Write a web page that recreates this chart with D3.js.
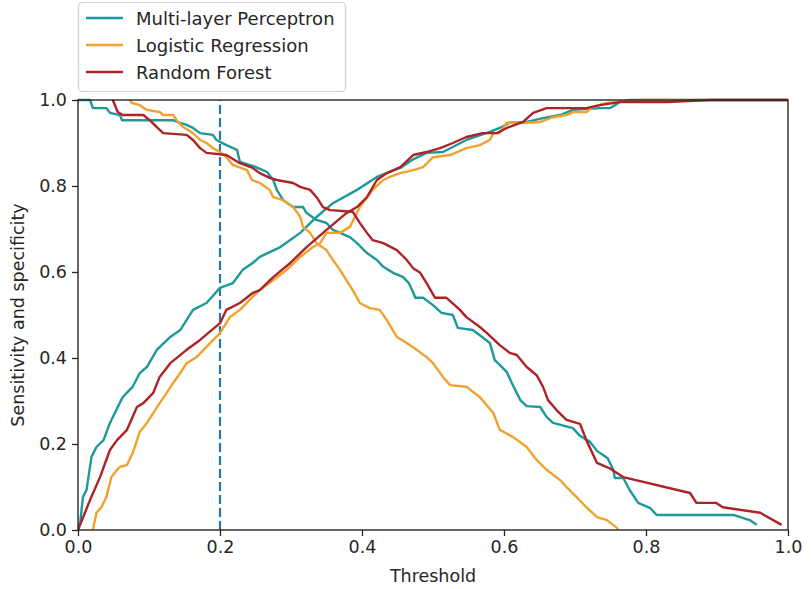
<!DOCTYPE html>
<html>
<head>
<meta charset="utf-8">
<script src="https://cdn.jsdelivr.net/npm/d3@7"></script>
<style>
  html, body { margin: 0; padding: 0; background: #fff; }
  svg text { font-family: "DejaVu Sans", sans-serif; fill: #262626; }
</style>
</head>
<body>
<svg id="chart" width="812" height="589"></svg>
<script>
// Threshold sweep: specificity rises, sensitivity falls as the threshold increases.
const modelNames = ["Multi-layer Perceptron", "Logistic Regression", "Random Forest"];
const modelColors = ["#1d9a98", "#f0a22e", "#ae2328"];
const xTicks = [0.0, 0.2, 0.4, 0.6, 0.8, 1.0];
const yTicks = [0.0, 0.2, 0.4, 0.6, 0.8, 1.0];
const chosenThreshold = 0.2;

const mlpSpecificity = [
  [0,0],[0.003,0.016],[0.007,0.077],[0.012,0.093],[0.019,0.17],[0.026,0.193],[0.036,0.209],
  [0.045,0.249],[0.056,0.286],[0.063,0.309],[0.077,0.333],[0.087,0.365],[0.097,0.379],
  [0.111,0.419],[0.130,0.449],[0.144,0.465],[0.162,0.512],[0.181,0.528],[0.2,0.563],
  [0.218,0.574],[0.232,0.605],[0.246,0.621],[0.256,0.635],[0.285,0.658],[0.313,0.691],
  [0.336,0.728],[0.359,0.760],[0.393,0.791],[0.421,0.821],[0.439,0.833],[0.454,0.842],
  [0.472,0.862],[0.491,0.877],[0.514,0.879],[0.547,0.907],[0.580,0.926],[0.594,0.935],
  [0.608,0.947],[0.632,0.949],[0.655,0.958],[0.679,0.965],[0.697,0.977],[0.735,0.981],
  [0.749,0.981],[0.756,0.988],[0.763,0.995],[0.777,1.0],[1.0,1.0]
];
const mlpSensitivity = [
  [0,1.0],[0.017,1.0],[0.021,0.981],[0.040,0.981],[0.045,0.970],[0.059,0.965],[0.062,0.953],
  [0.134,0.953],[0.144,0.947],[0.153,0.942],[0.162,0.935],[0.172,0.923],[0.190,0.919],
  [0.195,0.907],[0.209,0.895],[0.224,0.884],[0.228,0.856],[0.246,0.847],[0.266,0.833],
  [0.275,0.814],[0.280,0.791],[0.289,0.767],[0.303,0.751],[0.317,0.751],[0.322,0.737],
  [0.336,0.721],[0.350,0.714],[0.359,0.698],[0.369,0.691],[0.383,0.681],[0.393,0.667],
  [0.407,0.644],[0.421,0.628],[0.430,0.612],[0.444,0.598],[0.458,0.588],[0.466,0.574],
  [0.472,0.553],[0.475,0.540],[0.486,0.540],[0.500,0.523],[0.512,0.505],[0.528,0.500],
  [0.535,0.470],[0.556,0.465],[0.566,0.453],[0.580,0.435],[0.587,0.395],[0.594,0.384],
  [0.604,0.367],[0.611,0.342],[0.623,0.302],[0.632,0.288],[0.651,0.286],[0.660,0.263],
  [0.669,0.249],[0.697,0.237],[0.707,0.219],[0.721,0.205],[0.731,0.184],[0.746,0.167],
  [0.754,0.140],[0.756,0.121],[0.768,0.121],[0.777,0.093],[0.789,0.063],[0.806,0.051],
  [0.815,0.035],[0.923,0.035],[0.946,0.023],[0.956,0.012]
];
const lrSpecificity = [
  [0.021,0],[0.022,0.008],[0.026,0.040],[0.033,0.053],[0.040,0.077],[0.047,0.123],
  [0.055,0.140],[0.059,0.147],[0.069,0.151],[0.077,0.179],[0.087,0.228],[0.097,0.249],
  [0.106,0.272],[0.115,0.295],[0.125,0.319],[0.134,0.342],[0.144,0.365],[0.153,0.388],
  [0.167,0.402],[0.181,0.426],[0.2,0.458],[0.214,0.495],[0.228,0.512],[0.246,0.542],
  [0.256,0.558],[0.275,0.581],[0.294,0.605],[0.313,0.635],[0.331,0.658],[0.341,0.667],
  [0.350,0.691],[0.369,0.691],[0.383,0.705],[0.397,0.751],[0.415,0.791],[0.430,0.814],
  [0.439,0.821],[0.454,0.830],[0.472,0.837],[0.486,0.844],[0.500,0.867],[0.524,0.872],
  [0.547,0.888],[0.566,0.895],[0.580,0.907],[0.585,0.923],[0.594,0.923],[0.604,0.947],
  [0.632,0.947],[0.651,0.949],[0.669,0.960],[0.688,0.965],[0.697,0.972],[0.716,0.972],
  [0.725,0.984],[0.745,0.993],[0.763,0.996],[0.792,1.0],[1.0,1.0]
];
const lrSensitivity = [
  [0.073,1.0],[0.076,0.993],[0.087,0.988],[0.097,0.977],[0.115,0.972],[0.120,0.965],
  [0.134,0.965],[0.139,0.953],[0.148,0.937],[0.162,0.923],[0.172,0.907],[0.181,0.900],
  [0.190,0.888],[0.2,0.879],[0.209,0.867],[0.218,0.849],[0.238,0.837],[0.245,0.814],
  [0.256,0.807],[0.270,0.791],[0.275,0.774],[0.289,0.767],[0.303,0.751],[0.313,0.728],
  [0.317,0.705],[0.327,0.691],[0.336,0.667],[0.350,0.651],[0.359,0.628],[0.369,0.605],
  [0.378,0.581],[0.387,0.558],[0.397,0.528],[0.411,0.516],[0.425,0.512],[0.435,0.488],
  [0.449,0.449],[0.463,0.435],[0.477,0.419],[0.491,0.402],[0.500,0.388],[0.514,0.356],
  [0.524,0.337],[0.547,0.333],[0.566,0.309],[0.585,0.272],[0.594,0.233],[0.613,0.216],
  [0.632,0.193],[0.646,0.163],[0.660,0.140],[0.679,0.116],[0.688,0.100],[0.702,0.077],
  [0.716,0.053],[0.731,0.030],[0.745,0.023],[0.759,0.005],[0.761,0]
];
const rfSpecificity = [
  [0,0],[0.017,0.070],[0.031,0.123],[0.045,0.186],[0.055,0.209],[0.069,0.233],[0.083,0.286],
  [0.092,0.295],[0.106,0.319],[0.115,0.356],[0.130,0.388],[0.153,0.419],[0.172,0.442],
  [0.2,0.481],[0.209,0.512],[0.228,0.528],[0.246,0.551],[0.256,0.558],[0.275,0.588],
  [0.299,0.621],[0.322,0.658],[0.350,0.698],[0.378,0.737],[0.393,0.751],[0.407,0.774],
  [0.421,0.814],[0.435,0.830],[0.454,0.844],[0.472,0.872],[0.491,0.879],[0.510,0.888],
  [0.528,0.900],[0.547,0.914],[0.570,0.923],[0.590,0.923],[0.604,0.935],[0.627,0.949],
  [0.641,0.970],[0.660,0.981],[0.716,0.981],[0.735,0.988],[0.763,0.995],[0.830,0.995],
  [0.890,1.0],[1.0,1.0]
];
const rfSensitivity = [
  [0.049,1.0],[0.056,0.972],[0.063,0.965],[0.092,0.965],[0.101,0.953],[0.111,0.937],
  [0.120,0.923],[0.153,0.919],[0.162,0.907],[0.172,0.888],[0.181,0.877],[0.209,0.872],
  [0.228,0.853],[0.246,0.842],[0.256,0.830],[0.270,0.819],[0.280,0.814],[0.303,0.807],
  [0.313,0.798],[0.327,0.791],[0.336,0.774],[0.345,0.751],[0.355,0.744],[0.387,0.740],
  [0.397,0.714],[0.407,0.691],[0.415,0.674],[0.430,0.667],[0.449,0.651],[0.463,0.628],
  [0.472,0.609],[0.482,0.598],[0.491,0.574],[0.503,0.540],[0.519,0.540],[0.538,0.512],
  [0.547,0.495],[0.566,0.472],[0.576,0.458],[0.594,0.430],[0.608,0.412],[0.618,0.407],
  [0.632,0.379],[0.646,0.360],[0.655,0.333],[0.662,0.302],[0.674,0.279],[0.688,0.256],
  [0.707,0.247],[0.716,0.209],[0.731,0.156],[0.748,0.144],[0.768,0.123],[0.862,0.086],
  [0.871,0.063],[0.899,0.063],[0.908,0.053],[0.961,0.040],[0.991,0.012]
];

const curveSets = [
  [mlpSpecificity, mlpSensitivity],
  [lrSpecificity, lrSensitivity],
  [rfSpecificity, rfSensitivity]
];

const margin = { left: 78, right: 24, top: 100, bottom: 59 };
const W = 812, H = 589;
const svg = d3.select("#chart");

const x = d3.scaleLinear().domain([0, 1]).range([margin.left, W - margin.right]);
const y = d3.scaleLinear().domain([0, 1]).range([H - margin.bottom, margin.top]);

const plot = svg.append("g");
plot.append("defs").append("clipPath").attr("id", "clip")
  .append("rect").attr("x", x(0)).attr("y", y(1) - 2)
  .attr("width", x(1) - x(0)).attr("height", y(0) - y(1) + 2);

const line = d3.line().x(d => x(d[0])).y(d => y(d[1]));

// Reference threshold
plot.append("line")
  .attr("x1", x(chosenThreshold)).attr("x2", x(chosenThreshold))
  .attr("y1", y(0)).attr("y2", y(1))
  .attr("stroke", "#1f77b4").attr("stroke-width", 2.2)
  .attr("stroke-dasharray", "9,4");

const curves = plot.append("g").attr("clip-path", "url(#clip)");
curveSets.forEach((pair, i) => {
  pair.forEach(series => {
    curves.append("path")
      .datum(series)
      .attr("d", line)
      .attr("fill", "none")
      .attr("stroke", modelColors[i])
      .attr("stroke-width", 2.4)
      .attr("stroke-linejoin", "round");
  });
});

// Axes
const fmt = d3.format(".1f");
const xAxis = svg.append("g").attr("transform", `translate(0,${y(0)})`)
  .call(d3.axisBottom(x).tickValues(xTicks).tickFormat(fmt).tickSize(6).tickPadding(5));
const yAxis = svg.append("g").attr("transform", `translate(${x(0)},0)`)
  .call(d3.axisLeft(y).tickValues(yTicks).tickFormat(fmt).tickSize(6).tickPadding(5));
[xAxis, yAxis].forEach(g => {
  g.select(".domain").remove();
  g.selectAll(".tick line").attr("stroke", "#262626").attr("stroke-width", 1.3);
  g.selectAll(".tick text").attr("font-size", 17.5).attr("fill", "#262626")
    .attr("font-family", "DejaVu Sans, sans-serif");
});

// Frame
svg.append("rect")
  .attr("x", x(0)).attr("y", y(1))
  .attr("width", x(1) - x(0)).attr("height", y(0) - y(1))
  .attr("fill", "none").attr("stroke", "#262626").attr("stroke-width", 1.4);

// Axis titles
svg.append("text")
  .attr("x", (x(0) + x(1)) / 2).attr("y", 582)
  .attr("text-anchor", "middle").attr("font-size", 17.5)
  .text("Threshold");
svg.append("text")
  .attr("transform", `translate(24,${(y(0) + y(1)) / 2}) rotate(-90)`)
  .attr("text-anchor", "middle").attr("font-size", 17.5)
  .text("Sensitivity and specificity");

// Legend
const legend = svg.append("g");
legend.append("rect")
  .attr("x", 78.5).attr("y", 2.5).attr("width", 267).attr("height", 89)
  .attr("rx", 4).attr("ry", 4)
  .attr("fill", "#fff").attr("stroke", "#d0d0d0").attr("stroke-width", 1.2);
modelNames.forEach((name, i) => {
  const ly = 18 + i * 27;
  legend.append("line")
    .attr("x1", 86).attr("x2", 123).attr("y1", ly).attr("y2", ly)
    .attr("stroke", modelColors[i]).attr("stroke-width", 2.4);
  legend.append("text")
    .attr("x", 136).attr("y", ly + 6.5)
    .attr("font-size", 18)
    .text(name);
});
</script>
</body>
</html>
